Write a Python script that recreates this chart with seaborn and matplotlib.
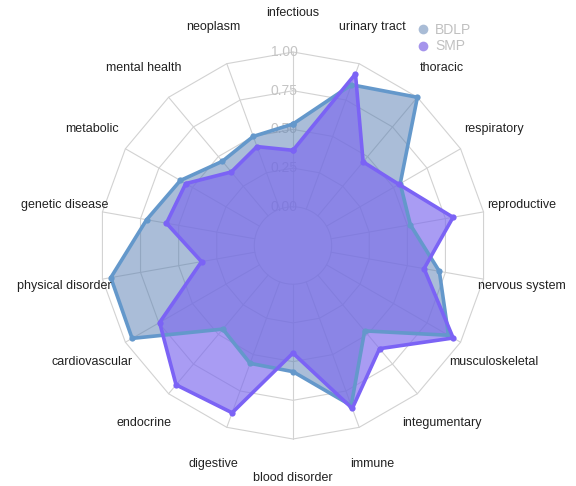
import numpy as np
import pandas as pd
import matplotlib
matplotlib.use('Agg')
import matplotlib.pyplot as plt
from matplotlib.lines import Line2D
import seaborn as sns

# ─── DATA ─────────────────────────────────────────────────────────────────────
categories = ['infectious', 'urinary tract', 'thoracic', 'respiratory', 'reproductive',
              'nervous system', 'musculoskeletal', 'integumentary', 'immune',
              'blood disorder', 'digestive', 'endocrine', 'cardiovascular',
              'physical disorder', 'genetic disease', 'metabolic', 'mental health',
              'neoplasm']
bdlp = [0.535, 0.855, 1.00, 0.55, 0.52, 0.71, 0.91, 0.47, 0.85,
        0.565, 0.56, 0.455, 0.95, 0.945, 0.71, 0.59, 0.46, 0.50]
smp = [0.365, 0.93, 0.455, 0.54, 0.80, 0.61, 0.945, 0.62, 0.87,
       0.445, 0.90, 0.925, 0.745, 0.35, 0.58, 0.55, 0.37, 0.43]
radial_ticks = [0.0, 0.25, 0.5, 0.75, 1.0]
series_names = ['BDLP', 'SMP']

# ─── STYLE ────────────────────────────────────────────────────────────────────
sns.set_style('white')
plt.rcParams['font.family'] = ['Liberation Sans', 'DejaVu Sans']

line_colors = {'BDLP': '#6498cb', 'SMP': '#7b63f5'}
fill_colors = {'BDLP': ('#567db2', 0.5), 'SMP': ('#7b68ee', 0.65)}
legend_colors = {'BDLP': '#a9bcd6', 'SMP': '#a594ec'}
grid_color = '#d2d2d2'

fig = plt.figure(figsize=(5.76, 4.86), dpi=100)
ax = fig.add_axes([0.1727, 0.0967, 0.6719, 0.7963], projection='polar')
ax.set_theta_zero_location('N')
ax.set_theta_direction(-1)
ax.set_ylim(0, 1)
ax.set_rorigin(-0.25)
ax.grid(False)
for sp in ax.spines.values():
    sp.set_visible(False)
    sp.set_edgecolor('none')   # polar draw() turns 'inner' back on, so hide its colour too
ax.patch.set_visible(False)
ax.set_xticks([])
ax.set_yticks([])

n = len(categories)
angles = np.linspace(0, 2 * np.pi, n, endpoint=False)
closed = np.append(angles, angles[0])

# polygon grid, spokes and the inner hole circle
for r in radial_ticks[1:]:
    ax.plot(closed, [r] * (n + 1), color=grid_color, lw=0.8, zorder=1, clip_on=False)
for a in angles:
    ax.plot([a, a], [0, 1], color=grid_color, lw=0.8, zorder=1, clip_on=False)
circ = np.linspace(0, 2 * np.pi, 200)
ax.plot(circ, np.zeros_like(circ), color=grid_color, lw=0.8, zorder=1, clip_on=False)

# radial tick labels along the top spoke
for r in radial_ticks:
    ax.annotate(f'{r:.2f}', xy=(0, r), xytext=(-9, 0), textcoords='offset pixels',
                ha='center', va='center', fontsize=10, color='#c4c4c4', zorder=1)

# ─── SERIES ───────────────────────────────────────────────────────────────────
for name, vals in zip(series_names, [bdlp, smp]):
    vals_closed = np.append(vals, vals[0])
    fc, alpha = fill_colors[name]
    ax.fill(closed, vals_closed, color=fc, alpha=alpha, lw=0, zorder=2, clip_on=False)
    df = pd.DataFrame({'theta': closed, 'r': vals_closed})
    sns.lineplot(data=df, x='theta', y='r', sort=False, estimator=None, ax=ax,
                 color=line_colors[name], lw=2.6, marker='o', markersize=4.5,
                 markeredgewidth=0, zorder=3, clip_on=False)
ax.set_xlabel('')
ax.set_ylabel('')

# category labels around the outside
for a, label in zip(angles, categories):
    ax.text(a, 1.25, label, ha='center', va='center', fontsize=9,
            color='#222222', clip_on=False)

# ─── LEGEND ───────────────────────────────────────────────────────────────────
handles = [Line2D([], [], ls='', marker='o', markersize=7, markeredgewidth=0,
                  color=legend_colors[s]) for s in series_names]
fig.legend(handles, series_names, loc='upper left', bbox_to_anchor=(0.724, 0.952),
           frameon=False, fontsize=10, labelcolor='#c0c0c0', handlelength=0.8,
           handletextpad=0.5, borderpad=0, borderaxespad=0, labelspacing=0.15)

fig.savefig('out.png', dpi=100)
